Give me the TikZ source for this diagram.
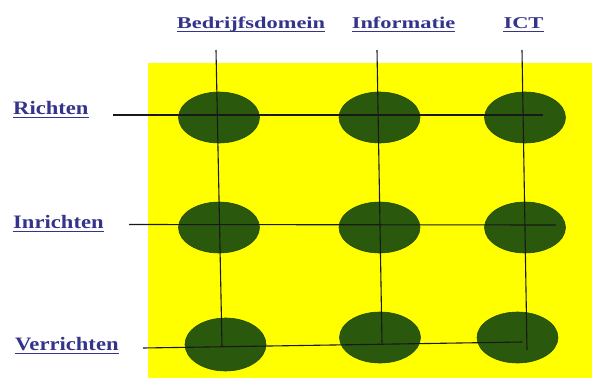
\documentclass[tikz,border=0pt]{standalone}
\usepackage{fontspec}
\setmainfont{Liberation Serif}
\usetikzlibrary{shapes.geometric}
\definecolor{linkblue}{RGB}{52,52,138}
\definecolor{leafgreen}{RGB}{42,88,12}
\definecolor{sunyellow}{RGB}{255,255,0}
\newcommand{\wide}[2]{\scalebox{#1}[1]{#2}}

\begin{document}
\begin{tikzpicture}[x=1pt, y=-1pt,
  head/.style={anchor=base, inner sep=0pt, text=linkblue, font=\fontsize{16.5}{18}\selectfont\bfseries},
  rowlabel/.style={anchor=base west, inner sep=0pt, text=linkblue, font=\fontsize{19}{21}\selectfont\bfseries},
  blob/.style={ellipse, inner sep=0pt, minimum width=81pt, minimum height=51pt, fill=leafgreen, draw=leafgreen!85!black, line width=0.6pt},
  gridline/.style={black!90, line width=1.1pt},
  uline/.style={linkblue, line width=1.5pt}
]
\useasboundingbox (0,0) rectangle (592,378);
\fill[sunyellow] (148,63) rectangle (592,378);

\node[head] (hbd) at (251,28) {\wide{1.36}{Bedrijfsdomein}};
\node[head] (hinf) at (403.5,28) {\wide{1.36}{Informatie}};
\node[head] (hict) at (523.5,28) {\wide{1.36}{ICT}};

\node[rowlabel] (rricht) at (13,114) {\wide{1.19}{Richten}};
\node[rowlabel] (rinricht) at (13,228) {\wide{1.19}{Inrichten}};
\node[rowlabel] (rverricht) at (15,350) {\wide{1.19}{Verrichten}};

\node[blob] (b11) at (219,117.5) {};
\node[blob] (b12) at (379.5,117.5) {};
\node[blob] (b13) at (525,117.5) {};
\node[blob] (b21) at (219,227.5) {};
\node[blob] (b22) at (379.5,227.5) {};
\node[blob] (b23) at (525,227.5) {};
\node[blob, minimum height=53pt] (b31) at (225.5,344.5) {};
\node[blob] (b32) at (380,337.5) {};
\node[blob] (b33) at (517.5,337.5) {};

\coordinate (top1) at (216,50);
\coordinate (bot1) at (222,346);
\coordinate (top2) at (377,50);
\coordinate (bot2) at (382,343);
\coordinate (top3) at (522,50);
\coordinate (bot3) at (527,350);
\coordinate (left1) at (113,115);
\coordinate (end1) at (543,115);
\coordinate (left2) at (129,224.5);
\coordinate (end2) at (556,225);
\coordinate (left3) at (143,348);
\coordinate (end3) at (522,342);

\foreach \i in {1,2,3} {
  \draw[gridline] (top\i) -- (bot\i);
  \draw[gridline] (left\i) -- (end\i);
}

\foreach \n in {hbd,hinf,hict,rricht,rinricht,rverricht}
  \draw[uline] ([yshift=-3.5pt]\n.base west) -- ([yshift=-3.5pt]\n.base east);
\end{tikzpicture}
\end{document}
